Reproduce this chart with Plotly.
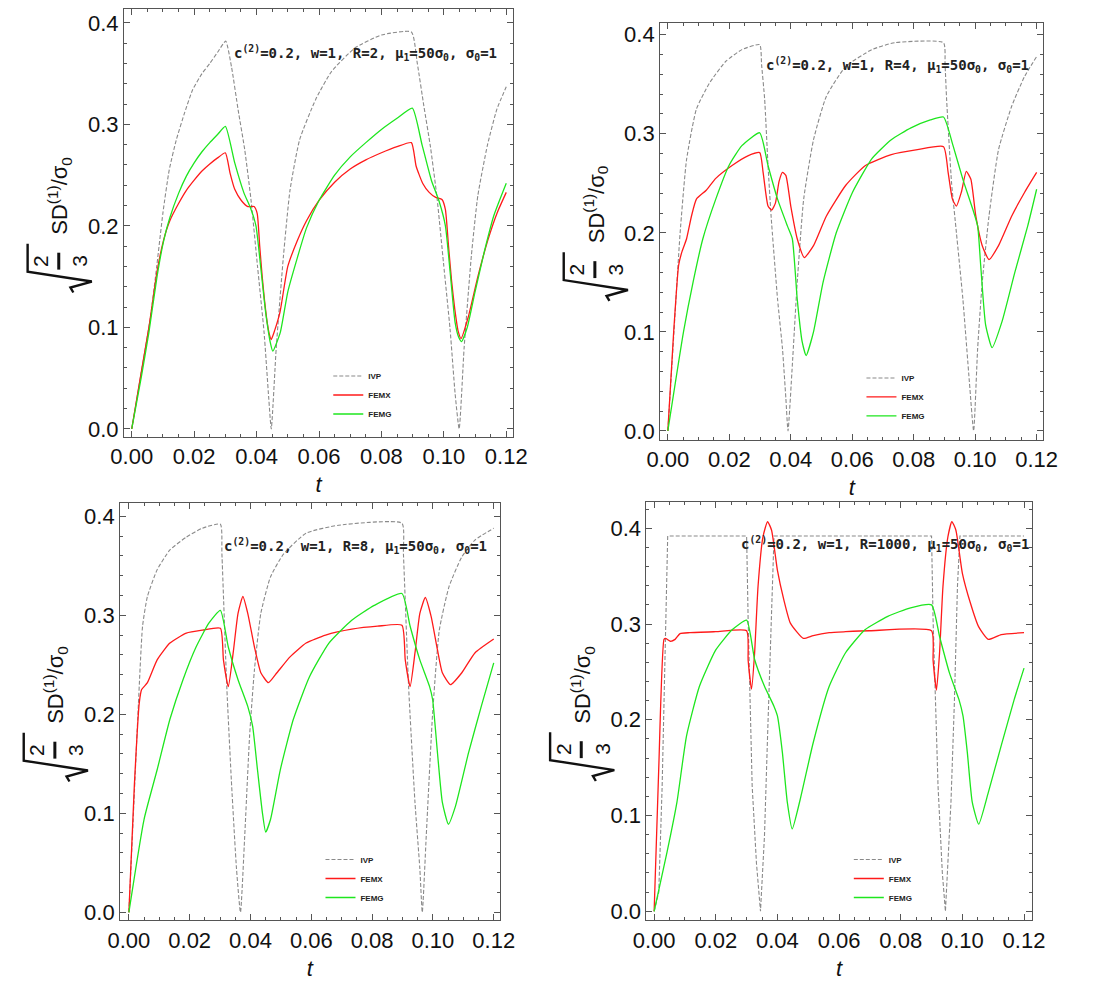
import plotly.graph_objects as go

W, H = 1110, 983

# ---------------- data ----------------
# Panel 1 : R = 2
p1_ivp_t = [0, 0.003, 0.006, 0.008, 0.010, 0.012, 0.0143, 0.0170, 0.0195, 0.0225, 0.0250, 0.0275, 0.0301,
            0.0320, 0.0341, 0.0362, 0.0382, 0.0403, 0.0424, 0.0439, 0.0447, 0.0463, 0.0486, 0.0507, 0.0538,
            0.0590, 0.0640, 0.0714, 0.0800, 0.0896, 0.0915, 0.0936, 0.0957, 0.0978, 0.0999, 0.1020, 0.1036,
            0.1049, 0.1065, 0.1088, 0.1109, 0.1140, 0.1170, 0.1200]
p1_ivp = [0, 0.055, 0.11, 0.16, 0.213, 0.255, 0.285, 0.312, 0.334, 0.350, 0.360, 0.371, 0.382,
          0.356, 0.314, 0.275, 0.226, 0.160, 0.095, 0.030, 0.0, 0.080, 0.170, 0.235, 0.285,
          0.325, 0.352, 0.375, 0.388, 0.391, 0.360, 0.318, 0.278, 0.228, 0.163, 0.098, 0.035,
          0.0, 0.080, 0.170, 0.230, 0.280, 0.315, 0.337]
p1_femx_t = [0, 0.003, 0.0055, 0.0081, 0.0102, 0.0122, 0.0150, 0.0175, 0.0200, 0.0225, 0.0250, 0.0275, 0.0300,
             0.0315, 0.0330, 0.0351, 0.0372, 0.0392, 0.0402, 0.0410, 0.0418, 0.0426, 0.0434, 0.0441, 0.0447,
             0.0458, 0.0475, 0.0500, 0.0530, 0.0560, 0.0600, 0.0650, 0.0700, 0.0750, 0.0800, 0.0850, 0.0896,
             0.0911, 0.0932, 0.0953, 0.0974, 0.0994, 0.1005, 0.1015, 0.1025, 0.1035, 0.1046, 0.1055, 0.1078,
             0.1109, 0.1140, 0.1171, 0.1200]
p1_femx = [0, 0.055, 0.10, 0.155, 0.186, 0.205, 0.222, 0.235, 0.245, 0.254, 0.261, 0.267, 0.272,
           0.252, 0.236, 0.225, 0.219, 0.219, 0.212, 0.180, 0.150, 0.125, 0.105, 0.093, 0.088,
           0.097, 0.115, 0.160, 0.185, 0.205, 0.225, 0.243, 0.256, 0.265, 0.272, 0.278, 0.282,
           0.259, 0.242, 0.233, 0.228, 0.226, 0.216, 0.180, 0.145, 0.118, 0.096, 0.089, 0.110,
           0.150, 0.185, 0.213, 0.233]
p1_femg_t = [0, 0.003, 0.0055, 0.0081, 0.0102, 0.0122, 0.0150, 0.0175, 0.0200, 0.0225, 0.0250, 0.0275, 0.0300,
             0.0330, 0.0360, 0.0380, 0.0398, 0.0413, 0.0429, 0.0444, 0.0452, 0.0476, 0.0500, 0.0530, 0.0560,
             0.0600, 0.0650, 0.0700, 0.0750, 0.0800, 0.0850, 0.0899, 0.0930, 0.0960, 0.0985, 0.1005, 0.1020,
             0.1036, 0.1048, 0.1057, 0.1075, 0.1100, 0.1130, 0.1160, 0.1200]
p1_femg = [0, 0.050, 0.095, 0.150, 0.185, 0.208, 0.232, 0.249, 0.262, 0.273, 0.282, 0.290, 0.298,
           0.262, 0.232, 0.218, 0.200, 0.160, 0.115, 0.085, 0.0765, 0.095, 0.135, 0.168, 0.198,
           0.225, 0.250, 0.268, 0.282, 0.295, 0.306, 0.316, 0.280, 0.245, 0.224, 0.200, 0.155,
           0.105, 0.090, 0.086, 0.100, 0.135, 0.175, 0.210, 0.242]

# Panel 2 : R = 4
p2_ivp_t = [0, 0.002, 0.004, 0.0061, 0.0093, 0.0135, 0.0188, 0.0241, 0.0299, 0.0305, 0.0315, 0.0326, 0.0336,
            0.0357, 0.0373, 0.0384, 0.0391, 0.0405, 0.0421, 0.0442, 0.0474, 0.0516, 0.0579, 0.0664, 0.0738,
            0.0897, 0.0902, 0.0907, 0.0923, 0.0939, 0.0960, 0.0981, 0.0995, 0.1008, 0.1023, 0.1045, 0.1076,
            0.1119, 0.1161, 0.1200]
p2_ivp = [0, 0.10, 0.20, 0.274, 0.325, 0.351, 0.373, 0.385, 0.390, 0.370, 0.335, 0.268, 0.217,
          0.133, 0.083, 0.033, 0.0, 0.066, 0.150, 0.234, 0.294, 0.338, 0.368, 0.385, 0.392,
          0.392, 0.370, 0.335, 0.251, 0.200, 0.133, 0.050, 0.0, 0.083, 0.150, 0.217, 0.284,
          0.328, 0.358, 0.378]
p2_femx_t = [0, 0.0019, 0.0035, 0.0045, 0.0061, 0.0077, 0.0093, 0.0125, 0.0156, 0.0209, 0.0262, 0.0299,
             0.0310, 0.0326, 0.0338, 0.0350, 0.0362, 0.0373, 0.0384, 0.0400, 0.0421, 0.0444, 0.0474, 0.0516,
             0.0579, 0.0643, 0.0727, 0.0812, 0.0897, 0.0912, 0.0926, 0.0939, 0.0955, 0.0971, 0.0986, 0.1002,
             0.1023, 0.1045, 0.1076, 0.1119, 0.1161, 0.1200]
p2_femx = [0, 0.100, 0.167, 0.180, 0.194, 0.217, 0.234, 0.243, 0.255, 0.268, 0.278, 0.281,
           0.261, 0.227, 0.223, 0.230, 0.252, 0.261, 0.258, 0.227, 0.194, 0.175, 0.187, 0.217,
           0.248, 0.268, 0.279, 0.284, 0.287, 0.261, 0.234, 0.227, 0.241, 0.262, 0.254, 0.217,
           0.187, 0.173, 0.187, 0.217, 0.241, 0.261]
p2_femg_t = [0, 0.0051, 0.0082, 0.0114, 0.0156, 0.0199, 0.0241, 0.0299, 0.0326, 0.0357, 0.0389, 0.0405,
             0.0421, 0.0437, 0.0450, 0.0474, 0.0505, 0.0548, 0.0601, 0.0664, 0.0727, 0.0791, 0.0854, 0.0897,
             0.0928, 0.0960, 0.0992, 0.1008, 0.1018, 0.1034, 0.1055, 0.1087, 0.1129, 0.1171, 0.1200]
p2_femg = [0, 0.100, 0.150, 0.194, 0.234, 0.268, 0.288, 0.301, 0.268, 0.234, 0.207, 0.194,
           0.133, 0.090, 0.076, 0.100, 0.150, 0.200, 0.241, 0.275, 0.294, 0.306, 0.314, 0.317,
           0.288, 0.254, 0.224, 0.207, 0.167, 0.107, 0.084, 0.110, 0.160, 0.207, 0.244]

# Panel 3 : R = 8
p3_ivp_t = [0, 0.0015, 0.0029, 0.0045, 0.0061, 0.0093, 0.0135, 0.0189, 0.0242, 0.0301, 0.0306, 0.0322,
            0.0338, 0.0354, 0.0367, 0.0381, 0.0397, 0.0413, 0.0434, 0.0466, 0.0509, 0.0583, 0.0690, 0.0898,
            0.0903, 0.0920, 0.0941, 0.0957, 0.0965, 0.0978, 0.0999, 0.1021, 0.1053, 0.1095, 0.1138, 0.1200]
p3_ivp = [0, 0.100, 0.195, 0.289, 0.319, 0.346, 0.366, 0.379, 0.388, 0.392, 0.362, 0.228,
          0.128, 0.044, 0.0, 0.077, 0.178, 0.245, 0.302, 0.339, 0.362, 0.383, 0.391, 0.393,
          0.362, 0.228, 0.111, 0.044, 0.0, 0.077, 0.201, 0.285, 0.329, 0.359, 0.376, 0.388]
p3_femx_t = [0, 0.0018, 0.0034, 0.0042, 0.0061, 0.0093, 0.0135, 0.0189, 0.0242, 0.0301, 0.0311, 0.0327,
             0.0343, 0.0359, 0.0375, 0.0391, 0.0413, 0.0434, 0.0459, 0.0487, 0.0530, 0.0583, 0.0647, 0.0733,
             0.0818, 0.0898, 0.0909, 0.0925, 0.0941, 0.0957, 0.0975, 0.0994, 0.1015, 0.1031, 0.1058, 0.1095,
             0.1138, 0.1200]
p3_femx = [0, 0.128, 0.211, 0.225, 0.232, 0.255, 0.272, 0.282, 0.285, 0.287, 0.255, 0.228,
           0.262, 0.302, 0.319, 0.302, 0.268, 0.242, 0.232, 0.242, 0.258, 0.272, 0.280, 0.286,
           0.289, 0.290, 0.255, 0.228, 0.262, 0.302, 0.318, 0.299, 0.265, 0.242, 0.230, 0.242,
           0.262, 0.276]
p3_femg_t = [0, 0.0050, 0.0093, 0.0135, 0.0178, 0.0221, 0.0263, 0.0301, 0.0327, 0.0359, 0.0391, 0.0407,
             0.0423, 0.0439, 0.0450, 0.0466, 0.0498, 0.0541, 0.0594, 0.0658, 0.0733, 0.0807, 0.0898, 0.0925,
             0.0957, 0.0989, 0.0999, 0.1015, 0.1031, 0.1051, 0.1074, 0.1117, 0.1159, 0.1200]
p3_femg = [0, 0.094, 0.144, 0.195, 0.235, 0.268, 0.292, 0.305, 0.268, 0.235, 0.208, 0.188,
           0.144, 0.101, 0.081, 0.094, 0.144, 0.195, 0.238, 0.272, 0.295, 0.310, 0.322, 0.289,
           0.255, 0.228, 0.215, 0.161, 0.111, 0.089, 0.107, 0.161, 0.208, 0.252]

# Panel 4 : R = 1000
p4_ivp_t = [0, 0.0015, 0.0026, 0.0037, 0.0044, 0.0300, 0.0305, 0.0318, 0.0332, 0.0345, 0.0358, 0.0368,
            0.0381, 0.0389, 0.0900, 0.0905, 0.0921, 0.0935, 0.0945, 0.0963, 0.0974, 0.0984, 0.0992, 0.1200]
p4_ivp = [0, 0.020, 0.131, 0.304, 0.392, 0.392, 0.304, 0.131, 0.050, 0.0, 0.079, 0.183,
          0.304, 0.392, 0.392, 0.304, 0.131, 0.040, 0.0, 0.114, 0.218, 0.339, 0.392, 0.392]
p4_femx_t = [0, 0.0015, 0.0032, 0.0037, 0.0053, 0.0068, 0.0084, 0.0116, 0.0200, 0.0300, 0.0305, 0.0316,
             0.0326, 0.0337, 0.0353, 0.0368, 0.0381, 0.0400, 0.0421, 0.0442, 0.0484, 0.0516, 0.0568, 0.0621,
             0.0700, 0.0900, 0.0905, 0.0916, 0.0926, 0.0937, 0.0953, 0.0966, 0.0979, 0.1000, 0.1026, 0.1053,
             0.1084, 0.1126, 0.1200]
p4_femx = [0, 0.150, 0.284, 0.285, 0.282, 0.284, 0.290, 0.291, 0.292, 0.293, 0.262, 0.232,
           0.270, 0.339, 0.391, 0.407, 0.398, 0.356, 0.325, 0.301, 0.285, 0.288, 0.291, 0.292,
           0.293, 0.293, 0.262, 0.231, 0.270, 0.339, 0.391, 0.407, 0.398, 0.353, 0.322, 0.297,
           0.284, 0.289, 0.291]
p4_femg_t = [0, 0.0042, 0.0074, 0.0105, 0.0147, 0.0200, 0.0253, 0.0300, 0.0326, 0.0358, 0.0389, 0.0400,
             0.0416, 0.0432, 0.0448, 0.0474, 0.0516, 0.0568, 0.0621, 0.0684, 0.0758, 0.0832, 0.0900, 0.0926,
             0.0958, 0.0989, 0.1002, 0.1016, 0.1032, 0.1053, 0.1084, 0.1126, 0.1168, 0.1200]
p4_femg = [0, 0.062, 0.114, 0.183, 0.235, 0.273, 0.294, 0.304, 0.263, 0.235, 0.214, 0.204,
           0.166, 0.114, 0.086, 0.117, 0.176, 0.235, 0.270, 0.294, 0.308, 0.317, 0.320, 0.287,
           0.249, 0.221, 0.204, 0.166, 0.114, 0.091, 0.124, 0.173, 0.221, 0.254]

series_names = ["IVP", "FEMX", "FEMG"]
r_values = ["2", "4", "8", "1000"]
x_ticks = [0.00, 0.02, 0.04, 0.06, 0.08, 0.10, 0.12]
y_ticks = [0.0, 0.1, 0.2, 0.3, 0.4]

data = [
    [(p1_ivp_t, p1_ivp), (p1_femx_t, p1_femx), (p1_femg_t, p1_femg)],
    [(p2_ivp_t, p2_ivp), (p2_femx_t, p2_femx), (p2_femg_t, p2_femg)],
    [(p3_ivp_t, p3_ivp), (p3_femx_t, p3_femx), (p3_femg_t, p3_femg)],
    [(p4_ivp_t, p4_ivp), (p4_femx_t, p4_femx), (p4_femg_t, p4_femg)],
]

# ---------------- layout geometry (pixels) ----------------
panels = [
    dict(L=113, R=513, T=9, B=439, xr=[-0.0025, 0.1222], yr=[-0.0078, 0.4137], ann=(361, 53), leg=(323, 397)),
    dict(L=664, R=1058, T=23, B=442, xr=[-0.00253, 0.1222], yr=[-0.009, 0.412], ann=(908, 65), leg=(871, 399)),
    dict(L=109, R=499, T=506, B=925, xr=[-0.0029, 0.1219], yr=[-0.008, 0.413], ann=(351, 549), leg=(315, 883)),
    dict(L=650, R=1046, T=505, B=925, xr=[-0.0025, 0.1225], yr=[-0.0094, 0.427], ann=(895, 547), leg=(858, 883)),
]

def px(x):
    return x / W

def py(y):
    return 1 - y / H

styles = [
    dict(color="#8a8a8a", width=1.1, dash="4px,2px"),
    dict(color="#ff1a1a", width=1.3),
    dict(color="#1ee61e", width=1.3),
]

FONT = "Liberation Sans, Arial, sans-serif"
MONO = "DejaVu Sans Mono, monospace"
FRAME = "#555555"

fig = go.Figure()
annotations = []
shapes = []

for i, (pan, series) in enumerate(zip(panels, data)):
    k = "" if i == 0 else str(i + 1)
    for j, (name, (tt, vv), st) in enumerate(zip(series_names, series, styles)):
        line = dict(st)
        if not (i == 3 and j == 0):
            line.update(shape="spline", smoothing=0.5)
        fig.add_trace(go.Scatter(
            x=tt, y=vv, mode="lines", name="<b>" + name + "</b>", line=line,
            xaxis="x" + k, yaxis="y" + k, legend="legend" + k,
        ))
    xa = dict(
        domain=[px(pan["L"]), px(pan["R"])], range=pan["xr"], anchor="y" + k,
        showline=True, linecolor=FRAME, linewidth=1, mirror="ticks",
        ticks="inside", ticklen=6, tickcolor=FRAME, tickwidth=1,
        tickvals=x_ticks, tickformat=".2f",
        minor=dict(ticks="inside", ticklen=3, dtick=0.005, tick0=0, tickcolor=FRAME, showgrid=False),
        showgrid=False, zeroline=False,
        tickfont=dict(family=FONT, size=22, color="#111"),
        title=dict(text="<i>t</i>", font=dict(family=FONT, size=22, color="#111"), standoff=8),
    )
    ya = dict(
        domain=[py(pan["B"]), py(pan["T"])], range=pan["yr"], anchor="x" + k,
        showline=True, linecolor=FRAME, linewidth=1, mirror="ticks",
        ticks="inside", ticklen=6, tickcolor=FRAME, tickwidth=1,
        tickvals=y_ticks, tickformat=".1f",
        minor=dict(ticks="inside", ticklen=3, dtick=0.02, tick0=0, tickcolor=FRAME, showgrid=False),
        showgrid=False, zeroline=False,
        tickfont=dict(family=FONT, size=22, color="#111"),
    )
    fig.layout["xaxis" + k] = xa
    fig.layout["yaxis" + k] = ya

    lx, ly = pan["leg"]
    fig.layout["legend" + k] = dict(
        x=px(lx), y=py(ly), xanchor="left", yanchor="middle",
        bgcolor="rgba(0,0,0,0)", borderwidth=0, itemwidth=30,
        font=dict(family=FONT, size=8, color="#222"), tracegroupgap=0,
    )

    # parameter annotation
    ax, ay = pan["ann"]
    annotations.append(dict(
        x=px(ax), y=py(ay), xref="paper", yref="paper", xanchor="center", yanchor="middle",
        showarrow=False,
        text="<b>c<sup>(2)</sup>=0.2, w=1, R=" + r_values[i] +
             ", μ<sub>1</sub>=50σ<sub>0</sub>, σ<sub>0</sub>=1</b>",
        font=dict(family=MONO, size=14, color="#222"),
    ))

    # y axis label: sqrt(2/3) SD^(1)/sigma_0 (rotated)
    L = pan["L"]
    C = (pan["T"] + pan["B"]) / 2
    annotations.append(dict(
        x=px(L - 66), y=py(C - 27), xref="paper", yref="paper", xanchor="center", yanchor="middle",
        showarrow=False, textangle=-90,
        text="SD<sup>(1)</sup>/σ<sub>0</sub>", font=dict(family=FONT, size=22, color="#111"),
    ))
    for txt, dx in (("2", -86), ("3", -46)):
        annotations.append(dict(
            x=px(L + dx), y=py(C + 38), xref="paper", yref="paper", xanchor="center", yanchor="middle",
            showarrow=False, textangle=-90, text=txt, font=dict(family=FONT, size=21, color="#111"),
        ))
    shapes.append(dict(type="line", xref="paper", yref="paper",
                       x0=px(L - 67), x1=px(L - 67), y0=py(C + 30), y1=py(C + 47),
                       line=dict(color="#111", width=3)))
    pts = [(L - 99, C + 21), (L - 99, C + 49), (L - 33, C + 59), (L - 55, C + 65), (L - 52, C + 70)]
    path = "M " + " L ".join(f"{px(a):.5f},{py(b):.5f}" for a, b in pts)
    shapes.append(dict(type="path", xref="paper", yref="paper", path=path,
                       line=dict(color="#111", width=2.4)))

fig.update_layout(
    width=W, height=H,
    margin=dict(l=0, r=0, t=0, b=0),
    paper_bgcolor="white", plot_bgcolor="white",
    annotations=annotations, shapes=shapes,
    showlegend=True,
)

fig.write_html("out.html")
